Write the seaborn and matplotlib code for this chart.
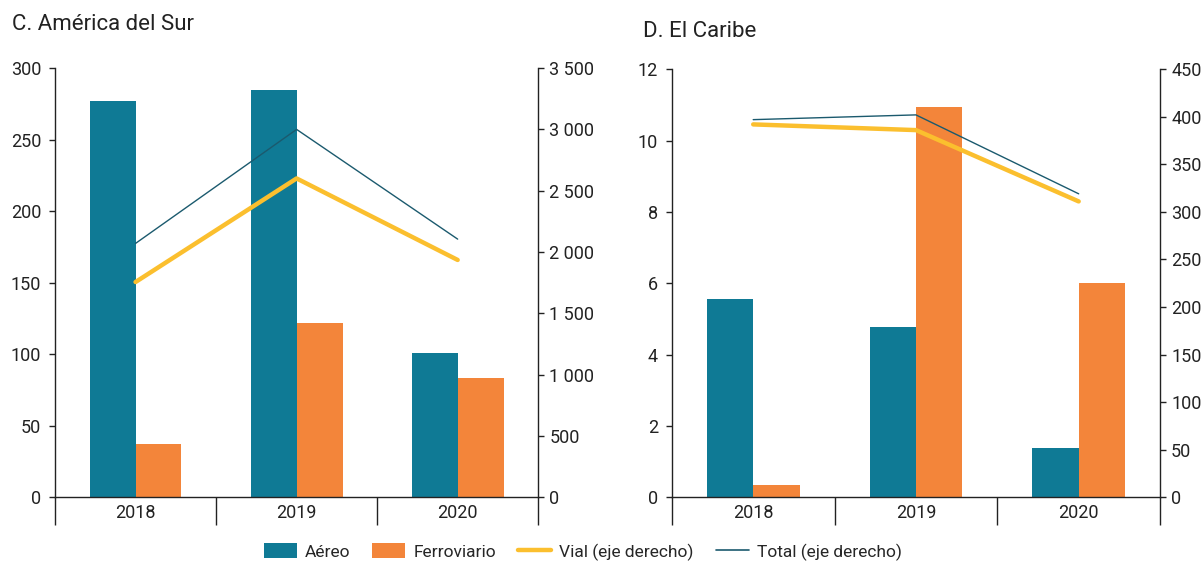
import pandas as pd
import numpy as np
import matplotlib
matplotlib.use("Agg")
import matplotlib.pyplot as plt
import seaborn as sns
from matplotlib.patches import Patch
from matplotlib.lines import Line2D
from matplotlib.ticker import FuncFormatter, FixedLocator, NullFormatter

# ================= datos =================
years = ["2018", "2019", "2020"]

# C. América del Sur
sur_aereo = [277, 285, 101]
sur_ferro = [37, 122, 83]
sur_vial = [1755, 2600, 1935]
sur_total = [2070, 3000, 2105]

# D. El Caribe
car_aereo = [5.55, 4.77, 1.37]
car_ferro = [0.34, 10.93, 6.0]
car_vial = [392, 386, 311]
car_total = [397, 402, 319]

titles = ["C. América del Sur", "D. El Caribe"]
legend_labels = ["Aéreo", "Ferroviario", "Vial (eje derecho)", "Total (eje derecho)"]

C_AEREO = "#0f7a95"
C_FERRO = "#f3853a"
C_VIAL = "#fbbf2e"
C_TOTAL = "#1b5a6e"

sns.set_theme(style="white")
plt.rcParams['font.family'] = ['Roboto', 'DejaVu Sans']
plt.rcParams['axes.unicode_minus'] = False

fmt = FuncFormatter(lambda v, p: f"{v:,.0f}".replace(",", " "))


def panel(fig, rect, aereo, ferro, vial, total, title, ylim_l, yt_l, ylim_r, yt_r, title_xy):
    ax = fig.add_axes(rect)
    df = pd.DataFrame({
        "year": years * 2,
        "modo": ["Aéreo"] * 3 + ["Ferroviario"] * 3,
        "valor": aereo + ferro,
    })
    sns.barplot(data=df, x="year", y="valor", hue="modo",
                palette=[C_AEREO, C_FERRO], width=0.57, gap=0,
                legend=False, ax=ax, saturation=1, linewidth=0)
    ax2 = ax.twinx()
    dl = pd.DataFrame({"year": years, "vial": vial, "total": total})
    sns.lineplot(data=dl, x="year", y="vial", color=C_VIAL, linewidth=3.2, ax=ax2)
    sns.lineplot(data=dl, x="year", y="total", color=C_TOTAL, linewidth=1.0, ax=ax2)

    for a in (ax, ax2):
        a.set_xlim(-0.5, 2.5)
        a.set_xlabel("")
        a.set_ylabel("")
        a.spines["top"].set_visible(False)
        for s in a.spines.values():
            s.set_color("#222222")
            s.set_linewidth(1.0)
    ax.spines["right"].set_visible(False)
    ax2.spines["left"].set_visible(False)
    ax2.spines["bottom"].set_visible(False)

    ax.set_ylim(*ylim_l)
    ax.set_yticks(yt_l)
    ax2.set_ylim(*ylim_r)
    ax2.set_yticks(yt_r)
    ax2.yaxis.set_major_formatter(fmt)

    ax.tick_params(axis="y", direction="out", length=4, width=1, color="#222222",
                   labelsize=13, pad=6, left=True)
    ax2.tick_params(axis="y", direction="out", length=4, width=1, color="#222222",
                    labelsize=13, pad=4, right=True)
    ax.tick_params(axis="x", which="major", length=0, labelsize=13, pad=5)
    ax.xaxis.set_minor_locator(FixedLocator([-0.5, 0.5, 1.5, 2.5]))
    ax.xaxis.set_minor_formatter(NullFormatter())
    ax.tick_params(axis="x", which="minor", direction="out", length=20, width=1,
                   color="#222222", bottom=True)
    for lab in ax.get_yticklabels() + ax2.get_yticklabels() + ax.get_xticklabels():
        lab.set_color("#222222")

    fig.text(title_xy[0], title_xy[1], title, fontsize=16, color="#222222", ha="left", va="center")
    return ax, ax2


fig = plt.figure(figsize=(12.04, 5.63), dpi=100)

panel(fig, [0.0457, 0.117, 0.4013, 0.762], sur_aereo, sur_ferro, sur_vial, sur_total,
      titles[0], (0, 300), [0, 50, 100, 150, 200, 250, 300],
      (0, 3500), [0, 500, 1000, 1500, 2000, 2500, 3000, 3500], (0.010, 0.957))
panel(fig, [0.558, 0.117, 0.4055, 0.760], car_aereo, car_ferro, car_vial, car_total,
      titles[1], (0, 12), [0, 2, 4, 6, 8, 10, 12],
      (0, 450), [0, 50, 100, 150, 200, 250, 300, 350, 400, 450], (0.534, 0.944))

handles = [
    Patch(facecolor=C_AEREO, edgecolor="none"),
    Patch(facecolor=C_FERRO, edgecolor="none"),
    Line2D([], [], color=C_VIAL, linewidth=3.2),
    Line2D([], [], color=C_TOTAL, linewidth=1.2),
]
fig.legend(handles, legend_labels, loc="center", bbox_to_anchor=(0.484, 0.02),
           ncol=4, frameon=False, fontsize=12.5, handlelength=1.9, handleheight=1.0,
           columnspacing=1.3, handletextpad=0.45)

fig.savefig("out.png", dpi=100, facecolor="white")
